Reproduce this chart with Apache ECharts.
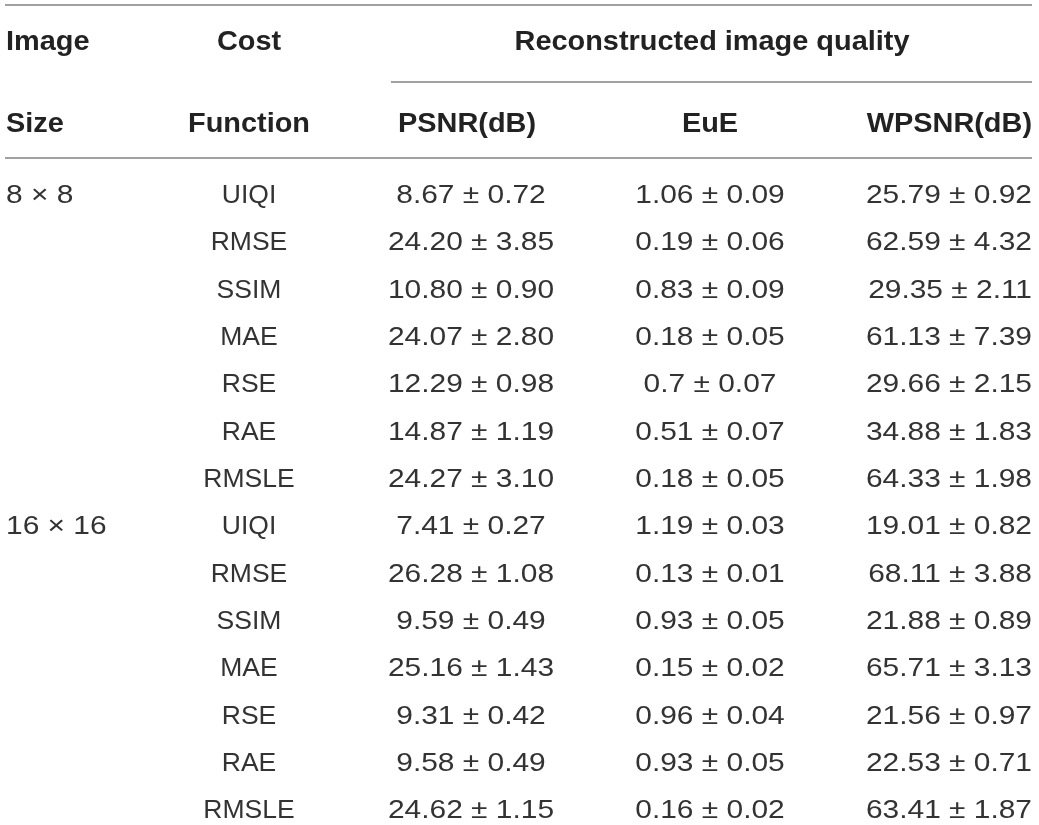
<!DOCTYPE html>
<html>
<head>
<meta charset="utf-8">
<script src="https://cdn.jsdelivr.net/npm/echarts@6/dist/echarts.min.js"></script>
<style>
  html, body { margin: 0; padding: 0; background: #fff; }
  #main { width: 1039px; height: 825px; }
</style>
</head>
<body>
<div id="main"></div>
<script>
const headerTop = ['Image', 'Cost', 'Reconstructed image quality'];
const headerBottom = ['Size', 'Function', 'PSNR(dB)', 'EuE', 'WPSNR(dB)'];

const imageSizes = ['8 × 8', '16 × 16'];
const costFunctions = ['UIQI', 'RMSE', 'SSIM', 'MAE', 'RSE', 'RAE', 'RMSLE'];

const psnr = [
  '8.67 ± 0.72', '24.20 ± 3.85', '10.80 ± 0.90', '24.07 ± 2.80', '12.29 ± 0.98', '14.87 ± 1.19', '24.27 ± 3.10',
  '7.41 ± 0.27', '26.28 ± 1.08', '9.59 ± 0.49', '25.16 ± 1.43', '9.31 ± 0.42', '9.58 ± 0.49', '24.62 ± 1.15'
];
const eue = [
  '1.06 ± 0.09', '0.19 ± 0.06', '0.83 ± 0.09', '0.18 ± 0.05', '0.7 ± 0.07', '0.51 ± 0.07', '0.18 ± 0.05',
  '1.19 ± 0.03', '0.13 ± 0.01', '0.93 ± 0.05', '0.15 ± 0.02', '0.96 ± 0.04', '0.93 ± 0.05', '0.16 ± 0.02'
];
const wpsnr = [
  '25.79 ± 0.92', '62.59 ± 4.32', '29.35 ± 2.11', '61.13 ± 7.39', '29.66 ± 2.15', '34.88 ± 1.83', '64.33 ± 1.98',
  '19.01 ± 0.82', '68.11 ± 3.88', '21.88 ± 0.89', '65.71 ± 3.13', '21.56 ± 0.97', '22.53 ± 0.71', '63.41 ± 1.87'
];

// layout: column anchors (px), alignment and horizontal stretch
const colX = [6, 249, 471, 710, 1032];
const colAlign = ['left', 'center', 'center', 'center', 'right'];
const colScale = [1.15, 1.02, 1.15, 1.15, 1.15];
const font = 'Liberation Sans';

// build rows and cells
const rowNames = [];
const cells = [];
const cellText = [];
imageSizes.forEach((size, g) => {
  costFunctions.forEach((fn, i) => {
    const r = rowNames.length;
    const k = g * costFunctions.length + i;
    rowNames.push(size + ' ' + fn);
    const row = [i === 0 ? size : '', fn, psnr[k], eue[k], wpsnr[k]];
    row.forEach((t, c) => {
      if (t === '') return;
      cells.push([c, r]);
      cellText.push(t);
    });
  });
});

const headText = (text, x, y, align) => ({
  type: 'text',
  x: x,
  y: y,
  scaleX: 1.07,
  style: {
    text: text,
    fontFamily: font,
    fontSize: 27,
    fontWeight: 'bold',
    fill: '#222',
    align: align,
    verticalAlign: 'middle'
  }
});
const rule = (x1, x2, y) => ({
  type: 'line',
  shape: { x1: x1, y1: y, x2: x2, y2: y },
  style: { stroke: '#808080', lineWidth: 1.5 }
});

const myChart = echarts.init(document.getElementById('main'));

const option = {
  backgroundColor: '#fff',
  animation: false,
  grid: { left: 0, right: 0, top: 196, bottom: 14 },
  xAxis: { type: 'value', min: 0, max: 1039, show: false },
  yAxis: { type: 'category', data: rowNames, inverse: true, boundaryGap: false, show: false },
  graphic: [
    rule(5, 1032, 5),
    rule(391, 1032, 82),
    rule(5, 1032, 158),
    headText(headerTop[0], colX[0], 43, 'left'),
    headText(headerTop[1], colX[1], 43, 'center'),
    headText(headerTop[2], 712, 43, 'center'),
    headText(headerBottom[0], colX[0], 125, 'left'),
    headText(headerBottom[1], colX[1], 125, 'center'),
    headText(headerBottom[2], 467, 125, 'center'),
    headText(headerBottom[3], colX[3], 125, 'center'),
    headText(headerBottom[4], colX[4], 125, 'right')
  ],
  series: [
    {
      type: 'custom',
      data: cells,
      renderItem: (params, api) => {
        const c = api.value(0);
        const pt = api.coord([colX[c], api.value(1)]);
        return {
          type: 'text',
          x: pt[0],
          y: pt[1],
          scaleX: colScale[c],
          style: {
            text: cellText[params.dataIndex],
            fontFamily: font,
            fontSize: 26,
            fill: '#333',
            align: colAlign[c],
            verticalAlign: 'middle'
          }
        };
      }
    }
  ]
};

myChart.setOption(option);
</script>
</body>
</html>
